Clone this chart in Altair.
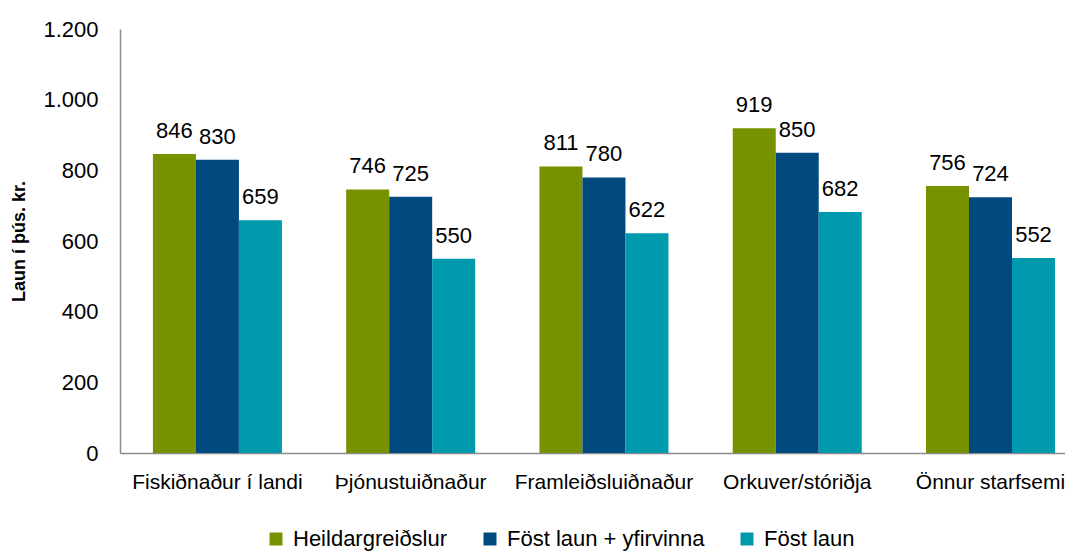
import altair as alt
import pandas as pd

categories = ["Fiskiðnaður í landi", "Þjónustuiðnaður", "Framleiðsluiðnaður", "Orkuver/stóriðja", "Önnur starfsemi"]
series = ["Heildargreiðslur", "Föst laun + yfirvinna", "Föst laun"]
heildar = [846, 746, 811, 919, 756]
fost_yfir = [830, 725, 780, 850, 724]
fost = [659, 550, 622, 682, 552]
colors = ["#769200", "#004A7F", "#009AAE"]

rows = []
for i, c in enumerate(categories):
    for s, vals in zip(series, [heildar, fost_yfir, fost]):
        rows.append({"cat": c, "series": s, "value": vals[i]})
df = pd.DataFrame(rows)

FONT = "Liberation Sans, Arial, sans-serif"
FS = 22

x = alt.X("cat:N", sort=categories, title=None,
          scale=alt.Scale(paddingInner=0.3325, paddingOuter=0.111, align=0.767),
          axis=alt.Axis(labelAngle=0, ticks=False, domainColor="#8c8c8c", domainWidth=1.5,
                        labelFont=FONT, labelFontSize=21, labelColor="#000000",
                        labelPadding=18, labelLimit=400, labelBound=False))
xo = alt.XOffset("series:N", sort=series, scale=alt.Scale(paddingInner=0, paddingOuter=0))
y = alt.Y("value:Q", title="Laun í þús. kr.",
          scale=alt.Scale(domain=[0, 1200], nice=False),
          axis=alt.Axis(values=[0, 200, 400, 600, 800, 1000, 1200], grid=False, ticks=False,
                        domainColor="#8c8c8c", domainWidth=1.5,
                        labelFont=FONT, labelFontSize=FS, labelColor="#000000", labelPadding=22,
                        labelExpr="replace(format(datum.value, ','), ',', '.')",
                        titleFont=FONT, titleFontSize=18, titleFontWeight="bold", titleColor="#000000",
                        titlePadding=14))
color = alt.Color("series:N", sort=series, scale=alt.Scale(domain=series, range=colors),
                  legend=alt.Legend(title=None, orient="none", direction="horizontal",
                                    legendX=145, legendY=499, padding=0, symbolType="square",
                                    symbolSize=169, symbolStrokeWidth=0, labelFont=FONT,
                                    labelFontSize=FS, labelColor="#000000", labelOffset=6,
                                    columnPadding=31, labelLimit=400))

bars = alt.Chart(df).mark_bar().encode(x=x, xOffset=xo, y=y, color=color)
labels = alt.Chart(df).mark_text(baseline="alphabetic", dy=-16, font=FONT, fontSize=FS,
                                 color="#000000").encode(
    x=alt.X("cat:N", sort=categories), xOffset=alt.XOffset("series:N", sort=series),
    y="value:Q", text="value:Q")

chart = alt.layer(bars, labels).properties(
    width=945, height=424,
    autosize=alt.AutoSizeParams(type="none"),
    padding={"left": 112, "top": 21, "right": 0, "bottom": 99},
).configure_view(stroke=None)

chart.save("out.html", embed_options={"renderer": "svg", "actions": False})
